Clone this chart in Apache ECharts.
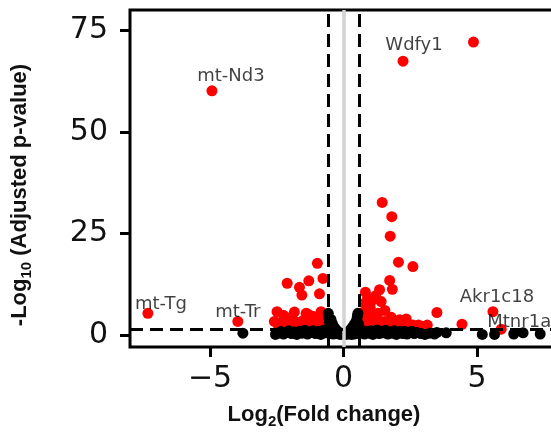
<!DOCTYPE html>
<html>
<head>
<meta charset="utf-8">
<script src="https://cdn.jsdelivr.net/npm/echarts@6/dist/echarts.min.js"></script>
<style>html,body{margin:0;padding:0;background:#fff;}#c{width:551px;height:432px;}</style>
</head>
<body>
<div id="c"></div>
<script>
// ---- data ----
const xTicks = [-5, 0, 5];
const yTicks = [0, 25, 50, 75];
const fcThreshold = 0.585;   // log2(1.5)
const pThreshold = 1.301;    // -log10(0.05)

const labeledNames = ['Wdfy1', 'mt-Nd3', 'mt-Tg', 'mt-Tr', 'Akr1c18', 'Mtnr1a'];
const labeledX = [2.23, -4.93, -7.33, -3.96, 5.6, 5.91];
const labeledY = [67.4, 60.1, 5.3, 3.3, 5.7, 1.4];

const sigPoints = [
  [4.87,72.1],
  [1.45,32.6],[1.81,29.1],[1.75,24.3],[2.06,17.9],[2.6,16.8],[1.73,13.4],[1.83,11.2],[1.35,11.1],[0.82,10.5],
  [1.1,8.6],[1.41,8.2],[0.79,7.8],[0.98,5.7],[1.29,5.3],[0.79,4.1],[1.16,3.7],[1.54,3.3],[2.1,3.7],[3.5,5.5],
  [1.79,4.3],[2.35,3.9],[2.81,2.4],[3.14,2.4],[4.44,2.6],
  [0.68,2.2],[0.75,3.0],[0.88,2.5],[0.95,3.4],[1.05,2.0],[1.2,2.6],[1.3,3.0],[1.45,2.2],[1.62,2.6],[1.7,1.9],
  [1.9,2.4],[2.0,2.0],[2.2,2.5],[2.45,2.1],[2.6,2.4],[2.95,2.1],[1.0,6.8],[0.9,9.0],[1.2,9.6],[0.72,5.5],[1.55,6.0],
  [-0.98,17.6],[-2.11,12.7],[-1.65,11.7],[-1.30,13.3],[-0.77,13.9],[-1.56,9.8],[-0.90,10.1],[-2.49,5.7],
  [-1.84,5.6],[-1.34,5.1],[-0.84,5.7],[-2.59,3.3],[-1.4,5.3],
  [-2.45,2.4],[-2.3,3.2],[-2.15,2.2],[-2.0,3.4],[-1.9,2.3],[-1.75,3.1],[-1.6,2.2],[-1.5,3.6],[-1.35,2.5],
  [-1.2,3.3],[-1.1,2.2],[-1.0,3.8],[-0.9,2.6],[-0.8,3.2],[-0.7,2.3],[-0.65,4.4],[-1.15,4.6],[-1.95,4.4],[-2.25,4.8]
];

const nsPoints = [
  [-3.77,0.4],
  [-2.55,0.1],[-2.45,0.4],[-2.35,0.8],[-2.25,0.2],[-2.15,0.6],[-2.05,1.0],[-1.95,0.3],[-1.85,0.7],[-1.75,0.1],
  [-1.65,0.9],[-1.55,0.4],[-1.45,1.1],[-1.35,0.2],[-1.25,0.6],[-1.15,1.0],[-1.05,0.3],[-0.95,0.8],[-0.85,0.1],
  [-0.75,1.1],[-0.68,0.5],[-0.62,0.9],
  [-0.57,5.3],[-0.55,4.2],[-0.53,3.1],[-0.5,2.3],[-0.47,3.8],[-0.45,1.7],[-0.42,2.8],[-0.4,1.2],[-0.37,2.0],
  [-0.34,0.8],[-0.31,1.5],[-0.28,0.5],[-0.25,1.0],[-0.22,0.3],[-0.19,0.7],[-0.16,0.2],[-0.13,0.4],[-0.1,0.1],
  [-0.56,1.0],[-0.52,0.3],[-0.46,0.6],[-0.38,0.2],
  [0.08,0.1],[0.12,0.3],[0.15,0.6],[0.18,0.2],[0.21,0.9],[0.24,0.4],[0.27,1.3],[0.3,0.7],[0.33,1.8],[0.36,1.1],
  [0.39,2.4],[0.42,1.5],[0.45,3.0],[0.48,2.0],[0.5,3.8],[0.52,4.6],[0.54,5.3],[0.56,2.7],[0.57,0.9],[0.5,0.3],
  [0.4,0.2],[0.3,0.1],
  [0.62,0.6],[0.7,1.1],[0.78,0.2],[0.86,0.8],[0.94,0.4],[1.02,1.0],[1.1,0.1],[1.18,0.7],[1.26,1.2],[1.34,0.3],
  [1.42,0.9],[1.5,0.5],[1.58,1.1],[1.66,0.2],[1.74,0.7],[1.82,0.4],[1.9,1.0],[1.98,0.1],[2.06,0.6],[2.14,0.9],
  [2.22,0.3],[2.3,0.8],[2.38,0.2],[2.46,0.5],[2.55,0.9],[2.65,0.3],[2.75,0.6],
  [2.9,0.3],[3.05,0.1],[3.22,0.4],[3.41,0.2],[3.5,0.6],[3.85,0.5],[5.2,0.1],[5.66,0.1],[6.38,0.2],[6.73,0.5],[7.37,0.2]
];

// ---- chart ----
const labelOffsets = {
  'Wdfy1': [11, -16], 'mt-Nd3': [19, -14], 'mt-Tg': [13, -9],
  'mt-Tr': [0, -9], 'Akr1c18': [4, -14], 'Mtnr1a': [18, -7]
};
const labeledPts = labeledNames.map((n, i) => [labeledX[i], labeledY[i]]);
const labelData = labeledNames.map((n, i) => ({
  name: n, value: [labeledX[i], labeledY[i]],
  label: { show: true, formatter: n, position: 'inside', offset: labelOffsets[n] }
}));

const minusFmt = v => (v < 0 ? '\u2212' + Math.abs(v) : String(v));
const FONT = 'DejaVu Sans';
const BOLD = 'Liberation Sans';

const chart = echarts.init(document.getElementById('c'), null, { renderer: 'canvas' });
chart.setOption({
  animation: false,
  backgroundColor: '#fff',
  grid: {
    left: 130, top: 10, width: 427, height: 337,
    containLabel: false, outerBoundsMode: 'none',
    show: true, borderColor: '#000', borderWidth: 3, backgroundColor: 'transparent'
  },
  xAxis: {
    type: 'value', min: -8, max: 8,
    axisLine: { show: false, onZero: false },
    splitLine: { show: false },
    axisTick: { show: true, customValues: xTicks, length: 10, lineStyle: { color: '#000', width: 3 } },
    axisLabel: { customValues: xTicks, formatter: minusFmt, fontFamily: FONT, fontSize: 30, color: '#111', margin: 17 },
    name: '{b|Log}{s|2}{b|(Fold change)}',
    nameLocation: 'middle', nameGap: 54,
    nameTextStyle: {
      padding: [0, 39, 0, 0],
      rich: {
        b: { fontFamily: BOLD, fontWeight: 'bold', fontSize: 22, lineHeight: 28, color: '#111' },
        s: { fontFamily: BOLD, fontWeight: 'bold', fontSize: 15, lineHeight: 12, verticalAlign: 'bottom', color: '#111' }
      }
    }
  },
  yAxis: {
    type: 'value', min: -3, max: 80,
    axisLine: { show: false, onZero: false },
    splitLine: { show: false },
    axisTick: { show: true, customValues: yTicks, length: 10, lineStyle: { color: '#000', width: 3 } },
    axisLabel: { customValues: yTicks, formatter: minusFmt, fontFamily: FONT, fontSize: 30, color: '#111', margin: 22 },
    name: '{b|-Log}{s|10}{b| (Adjusted p-value)}',
    nameLocation: 'middle', nameGap: 96, nameRotate: 90,
    nameTextStyle: {
      padding: [0, 33, 0, 0],
      rich: {
        b: { fontFamily: BOLD, fontWeight: 'bold', fontSize: 22, lineHeight: 28, color: '#111' },
        s: { fontFamily: BOLD, fontWeight: 'bold', fontSize: 15, lineHeight: 12, verticalAlign: 'bottom', color: '#111' }
      }
    }
  },
  series: [
    {
      name: 'significant', type: 'scatter', z: 2,
      data: sigPoints.concat(labeledPts),
      symbolSize: 11, itemStyle: { color: '#ff0000', opacity: 1 }
    },
    {
      name: 'not significant', type: 'scatter', z: 3,
      data: nsPoints,
      symbolSize: 11, itemStyle: { color: '#000000', opacity: 1 }
    },
    {
      name: 'thresholds', type: 'scatter', z: 4, data: [], silent: true,
      markLine: {
        silent: true, symbol: 'none', animation: false, z: 4,
        label: { show: false },
        data: [
          { xAxis: 0, lineStyle: { color: '#d3d3d3', width: 3.5, type: 'solid' } },
          { xAxis: -fcThreshold, lineStyle: { color: '#000', width: 3, type: [13, 7] } },
          { xAxis: fcThreshold, lineStyle: { color: '#000', width: 3, type: [13, 7] } },
          { yAxis: pThreshold, lineStyle: { color: '#000', width: 3, type: [13, 7] } }
        ]
      }
    },
    {
      name: 'labels', type: 'scatter', z: 5, symbolSize: 0, silent: true,
      data: labelData,
      label: { show: true, fontFamily: FONT, fontSize: 18, color: '#111' }
    }
  ]
});
</script>
</body>
</html>
